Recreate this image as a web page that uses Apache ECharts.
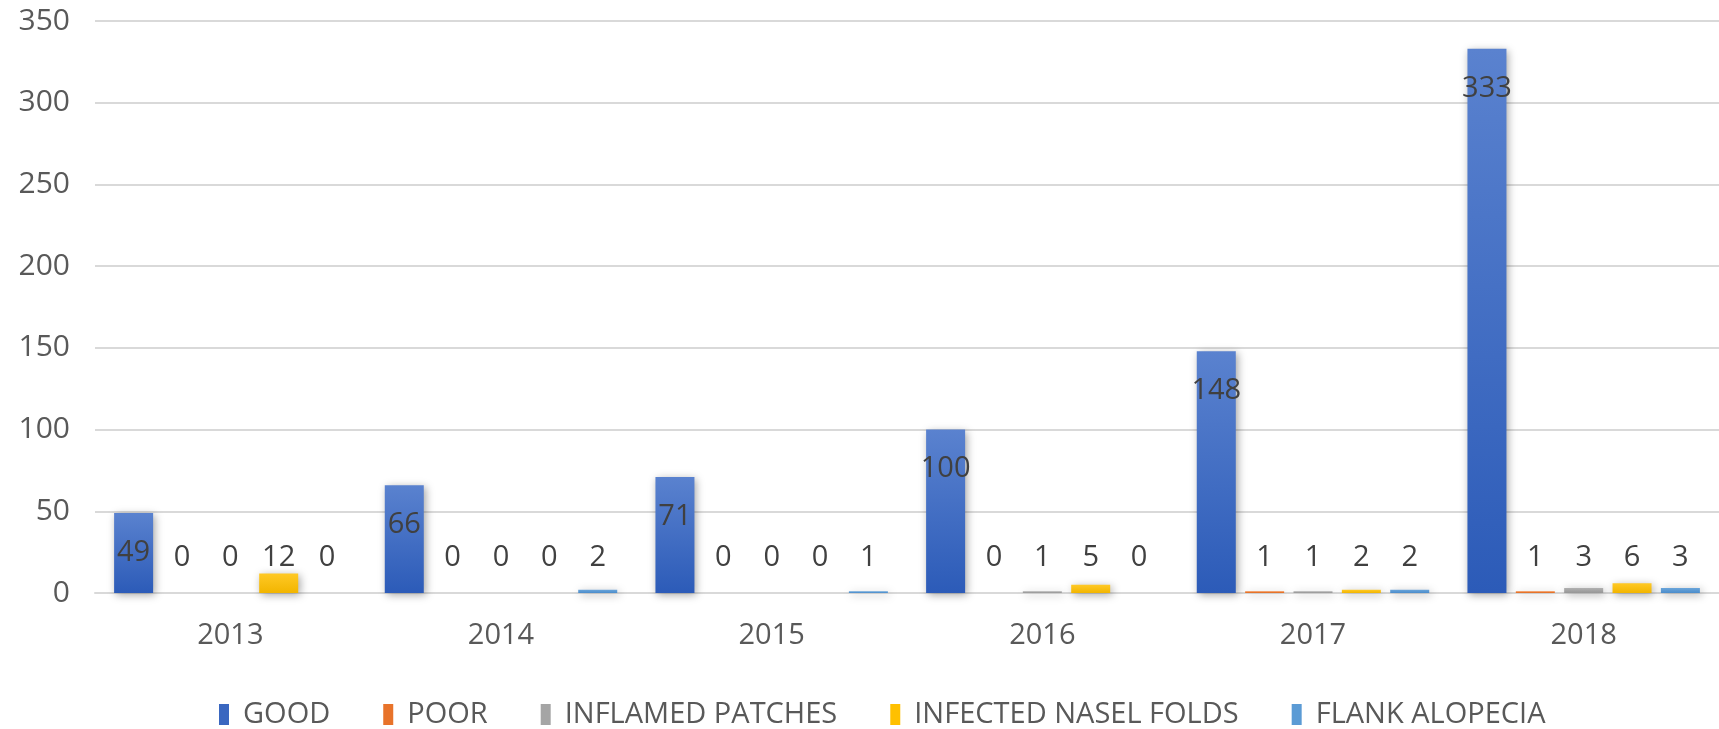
<!DOCTYPE html>
<html>
<head>
<meta charset="utf-8">
<style>
  html, body { margin: 0; padding: 0; background: #ffffff; }
  #chart { width: 1719px; height: 729px; }
</style>
<script src="https://cdn.jsdelivr.net/npm/echarts@6/dist/echarts.min.js"></script>
</head>
<body>
<div id="chart"></div>
<script>
const years = ['2013', '2014', '2015', '2016', '2017', '2018'];
const seriesNames = ['GOOD', 'POOR', 'INFLAMED PATCHES', 'INFECTED NASEL FOLDS', 'FLANK ALOPECIA'];
const good = [49, 66, 71, 100, 148, 333];
const poor = [0, 0, 0, 0, 1, 1];
const inflamedPatches = [0, 0, 0, 1, 1, 3];
const infectedNaselFolds = [12, 0, 0, 5, 2, 6];
const flankAlopecia = [0, 2, 1, 0, 2, 3];
const yMin = 0, yMax = 350, yInterval = 50;

const FONT = '"Open Sans", "Noto Sans", sans-serif';

function grad(top, bottom) {
  return new echarts.graphic.LinearGradient(0, 0, 0, 1, [
    { offset: 0, color: top },
    { offset: 1, color: bottom }
  ]);
}

const colors = [
  grad('#5A82CF', '#2C5BB8'),
  grad('#F38A45', '#E0681C'),
  grad('#B0B0B0', '#969696'),
  grad('#FFC926', '#F2B500'),
  grad('#6AA5DA', '#4A8CCB')
];
const legendColors = ['#3A67C0', '#E8732A', '#A5A5A5', '#FFC000', '#5B9BD5'];

const dataSets = [good, poor, inflamedPatches, infectedNaselFolds, flankAlopecia];

const series = dataSets.map((d, i) => ({
  name: seriesNames[i],
  type: 'bar',
  data: d,
  barWidth: 39,
  barGap: '24%',
  itemStyle: {
    color: colors[i],
    shadowBlur: 8,
    shadowColor: 'rgba(0,0,0,0.35)',
    shadowOffsetX: 2,
    shadowOffsetY: 2
  },
  label: {
    show: true,
    position: i === 0 ? 'insideTop' : 'insideBottom',
    distance: i === 0 ? 25 : 21,
    color: '#404040',
    fontFamily: FONT,
    fontSize: 29
  },
  emphasis: { disabled: true },
  animation: false
}));

const chart = echarts.init(document.getElementById('chart'));
chart.setOption({
  animation: false,
  color: legendColors,
  grid: { left: 95, right: 0, top: 21, bottom: 136, outerBoundsMode: 'none' },
  legend: {
    data: seriesNames.map((n, i) => ({ name: n, itemStyle: { color: legendColors[i] } })),
    left: 214,
    top: 695,
    itemWidth: 10,
    itemHeight: 21,
    itemGap: 53,
    icon: 'rect',
    textStyle: { color: '#595959', fontFamily: FONT, fontSize: 29, padding: [0, 0, 0, 9] }
  },
  xAxis: {
    type: 'category',
    data: years,
    axisLine: { lineStyle: { color: '#D9D9D9', width: 2 } },
    axisTick: { show: false },
    axisLabel: { color: '#595959', fontFamily: FONT, fontSize: 29, margin: 28 }
  },
  yAxis: {
    type: 'value',
    min: yMin,
    max: yMax,
    interval: yInterval,
    axisLine: { show: false },
    axisTick: { show: false },
    splitLine: { lineStyle: { color: '#D9D9D9', width: 2 } },
    axisLabel: { color: '#595959', fontFamily: FONT, fontSize: 30, margin: 25 }
  },
  series: series
});
</script>
</body>
</html>
